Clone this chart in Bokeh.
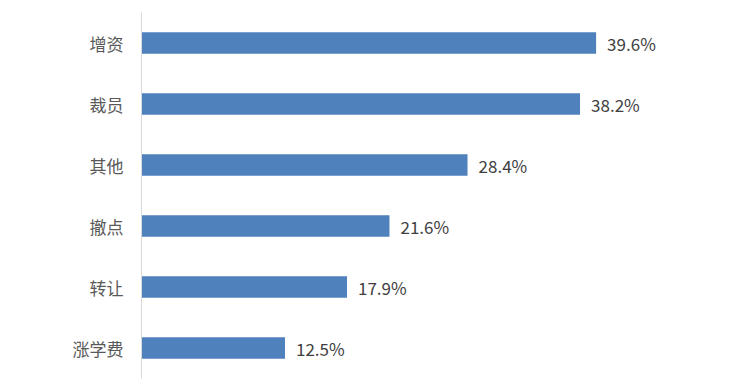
from bokeh.plotting import figure
from bokeh.models import ColumnDataSource, Range1d, FactorRange
from bokeh.core.properties import value
from bokeh.embed import file_html
from bokeh.resources import INLINE

categories = ["增资", "裁员", "其他", "撤点", "转让", "涨学费"]
values = [39.6, 38.2, 28.4, 21.6, 17.9, 12.5]
labels = ["39.6%", "38.2%", "28.4%", "21.6%", "17.9%", "12.5%"]

font = "Noto Sans CJK SC"
src = ColumnDataSource(dict(cat=categories, val=values, lab=labels))

p = figure(width=736, height=379, output_backend="svg", toolbar_location=None,
           y_range=FactorRange(*list(reversed(categories))),
           x_range=Range1d(0, 50),
           min_border_left=141, min_border_right=21, min_border_top=12, min_border_bottom=1)

p.hbar(y="cat", left=0, right="val", height=0.35, source=src,
       fill_color="#4F81BD", line_color=None)
p.text(x="val", y="cat", text="lab", source=src, x_offset=11,
       text_baseline="middle", text_align="left",
       text_font=value(font), text_font_size="17px", text_color="#404040")

p.xaxis.visible = False
p.xgrid.visible = False
p.ygrid.visible = False
p.outline_line_color = None
p.yaxis.axis_line_color = "#d9d9d9"
p.yaxis.major_tick_line_color = None
p.yaxis.minor_tick_line_color = None
p.yaxis.major_label_text_font = font
p.yaxis.major_label_text_font_size = "17px"
p.yaxis.major_label_text_color = "#595959"
p.yaxis.major_label_standoff = 12

open("out.html", "w").write(file_html(p, INLINE))
